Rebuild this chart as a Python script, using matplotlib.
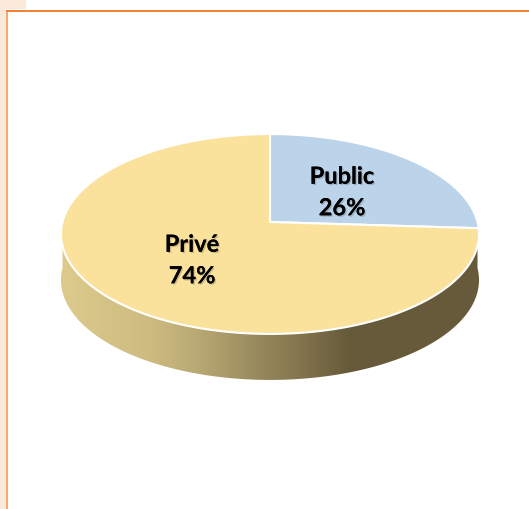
import numpy as np
import matplotlib.pyplot as plt
import matplotlib.patheffects as pe
from matplotlib.colors import LinearSegmentedColormap
from matplotlib.patches import Polygon, Rectangle

# Data
categories = ["Public", "Privé"]
shares = [26, 74]
slice_colors = ["#BBD4EA", "#FBE29C"]

# Pie geometry in picture pixels
cx, apex_y = 270, 222
rx, ry = 207.5, 98.5
tilt = 0.12
depth = 46

plt.rcParams["font.family"] = ["Lato", "DejaVu Sans"]

W, H = 529, 509
fig = plt.figure(figsize=(W / 100, H / 100), dpi=100)
ax = fig.add_axes([0, 0, 1, 1])
ax.set_xlim(0, W)
ax.set_ylim(H, 0)
ax.axis("off")


# Turn a pie angle (clockwise from the top, radians) into picture position
def project(angle, r=1.0):
    x = r * np.sin(angle)
    y = r * np.cos(angle)
    scale = 1 + tilt * y
    return cx + rx * x / scale, apex_y - ry * y / scale


# Page background and frame
ax.add_patch(Rectangle((0, 0), 6, H, color="#FBE9D9", lw=0))
ax.add_patch(Rectangle((0, 0), 26, 9, color="#FBE9D9", lw=0))
ax.add_patch(Rectangle((6, 10), 2, H - 10, color="#F9A96E", lw=0))
ax.add_patch(Rectangle((6, 10), W - 6, 1.6, color="#F58233", lw=0))

# Side of the pie: gradient clipped to the rim band
t = np.linspace(np.pi / 2, 3 * np.pi / 2, 200)
rim_x, rim_y = project(t)
side = np.concatenate([
    np.column_stack([rim_x, rim_y]),
    np.column_stack([rim_x[::-1], rim_y[::-1] + depth]),
])
side_cmap = LinearSegmentedColormap.from_list(
    "side",
    [(0, "#DCCB8C"), (0.21, "#CDBB80"), (0.33, "#B8A873"), (0.45, "#9C8D60"),
     (0.57, "#83754D"), (0.69, "#665A3A"), (1, "#665A3A")],
)
left, right = rim_x.min(), rim_x.max()
img = ax.imshow(
    np.linspace(0, 1, 256).reshape(1, -1),
    cmap=side_cmap,
    extent=[left, right, apex_y + 180, apex_y - 20],
    aspect="auto",
    zorder=2,
)
ax.set_xlim(0, W)
ax.set_ylim(H, 0)
img.set_clip_path(Polygon(side, closed=True, transform=ax.transData))

# Top of the pie, clockwise from 12 o'clock
edges = np.cumsum([0] + shares) / sum(shares) * 2 * np.pi
for i, name in enumerate(categories):
    a = np.linspace(edges[i], edges[i + 1], 200)
    px, py = project(a)
    ax.fill(
        np.r_[cx, px], np.r_[apex_y, py],
        facecolor=slice_colors[i], edgecolor="white", lw=1.5,
        joinstyle="round", zorder=3,
    )

# Labels
shadow = [pe.withSimplePatchShadow(offset=(1, -1), shadow_rgbFace="#000000", alpha=0.18), pe.Normal()]
label_pos = [(342, 192), (192, 260)]
for name, value, pos in zip(categories, shares, label_pos):
    ax.text(
        pos[0], pos[1], f"{name}\n{value}%",
        ha="center", va="center", fontsize=17, fontweight="bold",
        color="black", linespacing=1.45, zorder=4, path_effects=shadow,
    )

fig.savefig("out.png", dpi=100)
